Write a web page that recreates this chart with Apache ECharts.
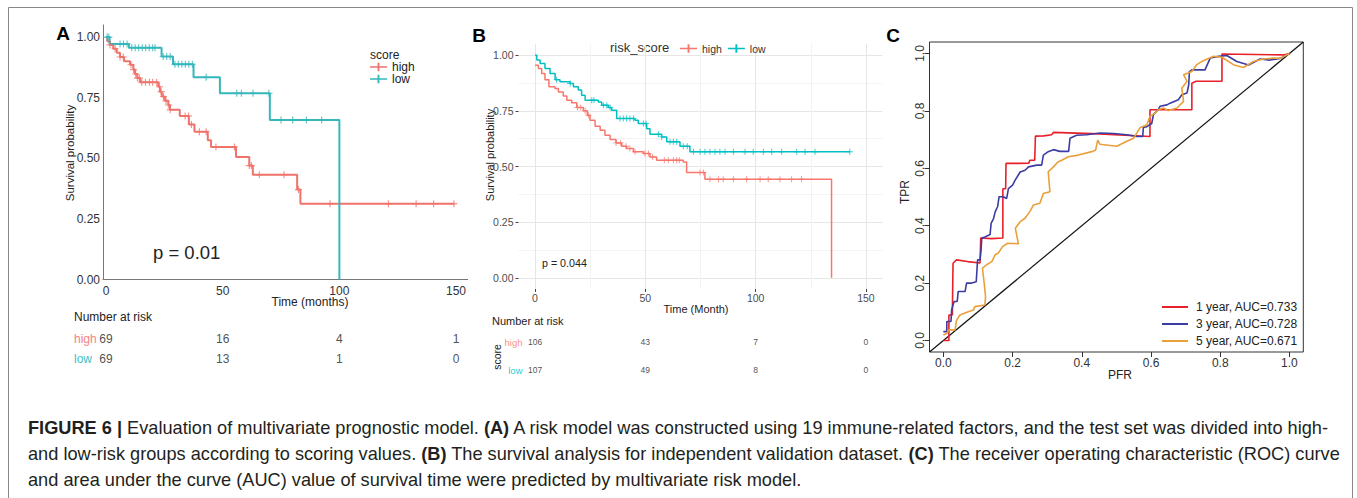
<!DOCTYPE html>
<html>
<head>
<meta charset="utf-8">
<script src="https://cdn.jsdelivr.net/npm/echarts@6/dist/echarts.min.js"></script>
<style>
  html, body { margin: 0; padding: 0; background: #fff; }
  #main { width: 1357px; height: 498px; }
</style>
</head>
<body>
<div id="main"></div>
<script>
// ---- panel A: KM, test set ----
const aTimeTicks = [0, 50, 100, 150];
const survTicks = [0, 0.25, 0.5, 0.75, 1];
const aHigh = [[0, 1], [0.5, 0.983], [1.7, 0.968], [3.1, 0.952], [4.6, 0.935], [6, 0.918], [7.7, 0.9],
  [10.3, 0.886], [11.7, 0.866], [12.4, 0.848], [13.4, 0.831], [14.6, 0.814], [22.4, 0.795], [23.1, 0.775],
  [23.9, 0.755], [25.3, 0.737], [26.7, 0.72], [27.4, 0.7], [31.6, 0.675], [35.5, 0.64], [37.9, 0.61],
  [43.6, 0.574], [45, 0.547], [55.7, 0.505], [61.4, 0.47], [62.9, 0.432], [81.9, 0.371], [83.3, 0.313],
  [149.3, 0.313]];
const aLow = [[0, 1], [1.5, 0.972], [9.8, 0.956], [23.8, 0.92], [28.7, 0.888], [37.5, 0.834],
  [48.8, 0.768], [70.2, 0.658], [100, 0]];
const aHighCensor = [1.7, 3.9, 6, 7.4, 10.7, 11.8, 12.7, 13.5, 14.3, 15.3, 16.9, 18.6, 20, 21.7, 22.9,
  23.6, 24.6, 25.7, 26.7, 27.5, 33.9, 35.3, 36.6, 40, 42.9, 47.1, 55, 61.4, 62.3, 65.7, 76.3, 82.5,
  96, 121, 132.9, 140.4, 149.1];
const aLowCensor = [0.5, 1.2, 6, 7.5, 9, 11, 12.5, 14, 15.5, 17, 18.5, 20, 21, 24.5, 26, 27.5, 29.5,
  31, 32.5, 34, 35.5, 37, 42.9, 56, 58, 63, 69.8, 75, 80, 85.9, 92.4];
const aRiskTimes = [0, 50, 100, 150];
const aRiskHigh = [69, 16, 4, 1];
const aRiskLow = [69, 13, 1, 0];

// ---- panel B: KM, validation set ----
const bTimeTicks = [0, 50, 100, 150];
const bTimeMinor = [25, 75, 125];
const survMinor = [0.125, 0.375, 0.625, 0.875];
const bHigh = [[0, 0.955], [1.5, 0.94], [3, 0.918], [4.5, 0.89], [6.3, 0.858], [9, 0.85], [10.6, 0.835],
  [12.8, 0.816], [14.4, 0.798], [16.6, 0.786], [18.9, 0.765], [21.9, 0.75], [23.7, 0.73], [24.9, 0.708],
  [27.2, 0.681], [29.5, 0.663], [31.7, 0.64], [34, 0.621], [36.7, 0.606], [39.3, 0.591], [41.5, 0.581],
  [44.6, 0.566], [49.1, 0.558], [52.1, 0.543], [55.1, 0.528], [67.2, 0.52], [68.7, 0.473], [77, 0.443],
  [134.4, 0]];
const bLow = [[0, 1], [0.8, 0.978], [2.3, 0.963], [4.5, 0.94], [6.8, 0.918], [9.1, 0.89], [11.3, 0.88],
  [15.9, 0.873], [17.4, 0.858], [19.6, 0.843], [21.1, 0.82], [22.7, 0.798], [28.7, 0.79], [30.2, 0.775],
  [33.2, 0.765], [34.7, 0.753], [37, 0.716], [45.3, 0.708], [46.8, 0.693], [50.6, 0.67], [52.1, 0.645],
  [57.4, 0.633], [59.7, 0.611], [65.7, 0.591], [70.2, 0.566], [142.7, 0.566]];
const bHighCensor = [19.2, 20.7, 22.7, 24.2, 36.7, 38.8, 41.2, 43, 45.3, 49.8, 51.4, 53.3, 58.6, 60.4,
  62.7, 64.2, 65.4, 74.8, 76.3, 79.3, 83.1, 85.3, 89.9, 95.9, 102, 105.7, 111, 116.3, 120.8];
const bLowCensor = [9.8, 15.9, 25.7, 26.7, 31, 32.5, 34, 38.5, 40, 41.5, 43, 44.6, 49.1, 50.3, 55.9,
  57.4, 61.2, 62.7, 64.2, 67.2, 69, 71.8, 74.8, 77, 79.3, 81.6, 83.8, 86.1, 89.9, 95.2, 98.9, 103.5,
  107.3, 111.8, 118.6, 122.4, 126.9, 142.7];
const bRiskTimes = [0, 50, 100, 150];
const bRiskHigh = [106, 43, 7, 0];
const bRiskLow = [107, 49, 8, 0];

// ---- panel C: ROC ----
const rocTicks = [0, 0.2, 0.4, 0.6, 0.8, 1];
const rocNames = ['1 year, AUC=0.733', '3 year, AUC=0.728', '5 year, AUC=0.671'];
const roc1 = [[0, 0], [0.016, 0], [0.016, 0.089], [0.026, 0.089], [0.028, 0.269], [0.038, 0.281],
  [0.07, 0.275], [0.106, 0.27], [0.108, 0.357], [0.14, 0.355], [0.172, 0.357], [0.172, 0.529],
  [0.18, 0.529], [0.181, 0.617], [0.215, 0.617], [0.247, 0.618], [0.25, 0.628], [0.264, 0.628],
  [0.266, 0.712], [0.29, 0.713], [0.313, 0.717], [0.318, 0.725], [0.45, 0.72], [0.597, 0.711],
  [0.597, 0.804], [0.718, 0.804], [0.718, 0.896], [0.73, 0.903], [0.805, 0.903], [0.805, 0.998],
  [0.983, 0.995], [1, 1]];
const roc3 = [[0, 0.031], [0.01, 0.031], [0.01, 0.066], [0.022, 0.066], [0.024, 0.107], [0.031, 0.136],
  [0.04, 0.136], [0.043, 0.171], [0.063, 0.171], [0.067, 0.2], [0.082, 0.2], [0.095, 0.205], [0.099, 0.281],
  [0.106, 0.281], [0.109, 0.315], [0.111, 0.357], [0.12, 0.361], [0.135, 0.369], [0.138, 0.408],
  [0.145, 0.425], [0.15, 0.449], [0.157, 0.467], [0.161, 0.501], [0.173, 0.501], [0.183, 0.495],
  [0.188, 0.529], [0.2, 0.541], [0.207, 0.558], [0.222, 0.587], [0.236, 0.593], [0.246, 0.605],
  [0.27, 0.611], [0.284, 0.611], [0.289, 0.646], [0.303, 0.658], [0.318, 0.665], [0.337, 0.659],
  [0.362, 0.659], [0.366, 0.705], [0.385, 0.715], [0.414, 0.717], [0.453, 0.723], [0.492, 0.721],
  [0.53, 0.717], [0.559, 0.711], [0.576, 0.711], [0.578, 0.742], [0.588, 0.745], [0.602, 0.756],
  [0.607, 0.787], [0.621, 0.804], [0.626, 0.816], [0.646, 0.821], [0.655, 0.827], [0.679, 0.839],
  [0.689, 0.856], [0.704, 0.862], [0.709, 0.891], [0.711, 0.937], [0.718, 0.943], [0.756, 0.943],
  [0.771, 0.984], [0.795, 0.99], [0.819, 0.993], [0.848, 0.972], [0.882, 0.96], [0.915, 0.981],
  [0.944, 0.977], [0.973, 0.983], [1, 1]];
const roc5 = [[0, 0.019], [0.01, 0.025], [0.016, 0.037], [0.034, 0.037], [0.038, 0.07], [0.048, 0.089],
  [0.072, 0.1], [0.087, 0.106], [0.091, 0.118], [0.12, 0.124], [0.122, 0.153], [0.118, 0.2],
  [0.113, 0.252], [0.125, 0.264], [0.14, 0.275], [0.15, 0.299], [0.159, 0.305], [0.171, 0.327],
  [0.186, 0.339], [0.217, 0.337], [0.208, 0.391], [0.222, 0.414], [0.236, 0.426], [0.25, 0.449],
  [0.26, 0.472], [0.279, 0.478], [0.289, 0.512], [0.308, 0.518], [0.303, 0.588], [0.318, 0.605],
  [0.331, 0.622], [0.342, 0.628], [0.361, 0.64], [0.39, 0.646], [0.429, 0.658], [0.44, 0.664],
  [0.446, 0.698], [0.452, 0.684], [0.501, 0.677], [0.53, 0.694], [0.55, 0.705], [0.568, 0.741],
  [0.588, 0.752], [0.597, 0.781], [0.612, 0.792], [0.621, 0.804], [0.636, 0.81], [0.65, 0.801],
  [0.675, 0.81], [0.694, 0.833], [0.689, 0.879], [0.704, 0.903], [0.694, 0.926], [0.718, 0.937],
  [0.732, 0.961], [0.751, 0.975], [0.781, 0.99], [0.805, 0.987], [0.838, 0.961], [0.867, 0.951],
  [0.896, 0.972], [0.925, 0.981], [0.954, 0.984], [0.973, 0.983], [1, 1]];
const rocDiag = [[-0.04, -0.04], [1.04, 1.04]];

const FONT = '"Liberation Sans", Arial, Helvetica, sans-serif';
const CROSS = 'path://M0,4.2H10V5.8H0Z M4.2,0H5.8V10H4.2Z';
const KM_ICON = 'path://M0,4.2H18V5.8H0Z M8,0.5H10V9.5H8Z';

const A_RED = '#F0736B', A_TEAL = '#35B7BB';
const B_RED = '#F8766D', B_TEAL = '#00BFC4';
const ROC_COLORS = ['#E8202A', '#3C3CA3', '#E9A03A'];

function stepAt(steps, t) {
  let s = steps[0][1];
  steps.forEach(p => { if (p[0] <= t) s = p[1]; });
  return s;
}

function kmLine(name, steps, color, axis, width) {
  return {
    type: 'line', name, xAxisIndex: axis, yAxisIndex: axis, data: steps, step: 'end',
    symbol: 'none', lineStyle: { color, width }, itemStyle: { color }, z: 3
  };
}

function censor(name, steps, times, color, axis, size) {
  return {
    type: 'scatter', name, xAxisIndex: axis, yAxisIndex: axis, silent: true, z: 4,
    data: times.map(t => [t, stepAt(steps, t)]),
    symbol: CROSS, symbolSize: size, itemStyle: { color }
  };
}

function riskRows(times, high, low, axis, fontSize) {
  const data = [];
  times.forEach((t, i) => {
    data.push([t, 0, high[i]]);
    data.push([t, 1, low[i]]);
  });
  return {
    type: 'scatter', name: 'risk' + axis, xAxisIndex: axis, yAxisIndex: axis, silent: true,
    data, symbolSize: 0,
    label: { show: true, position: 'inside', formatter: p => p.value[2],
      fontSize, fontFamily: FONT, color: '#222' }
  };
}

function txt(text, x, y, o) {
  o = o || {};
  return {
    type: 'text', x, y, rotation: o.rot || 0, silent: true,
    style: {
      text, fontSize: o.size || 12, fontFamily: FONT, fontWeight: o.weight || 'normal',
      fill: o.color || '#222', align: o.align || 'left', verticalAlign: 'middle', rich: o.rich
    }
  };
}

const hidden = { show: false };
const noLine = { show: false, onZero: false };
const pct2 = v => v.toFixed(2);
const pct1 = v => v.toFixed(1);

const CAP_SIZE = 18.2;
const capRich = { b: { fontWeight: 'bold', fontSize: CAP_SIZE, fontFamily: FONT, fill: '#231f20' } };

const chart = echarts.init(document.getElementById('main'), null, { renderer: 'svg' });

chart.setOption({
  animation: false,
  backgroundColor: '#fff',
  textStyle: { fontFamily: FONT },
  grid: [
    { left: 103, top: 25, width: 364.7, height: 254.5 },
    { left: 103, top: 329, width: 364.7, height: 40 },
    { left: 518.5, top: 44, width: 364, height: 245 },
    { left: 518.5, top: 328, width: 364, height: 56 },
    { left: 929.5, top: 42, width: 373.8, height: 310, show: true, borderColor: '#333', borderWidth: 1 }
  ],
  xAxis: [
    { gridIndex: 0, type: 'value', min: -1.3, max: 155,
      axisLine: { onZero: false, lineStyle: { color: '#777' } }, axisTick: hidden, splitLine: hidden,
      axisLabel: { customValues: aTimeTicks, fontSize: 12, color: '#333', margin: 5 } },
    { gridIndex: 1, type: 'value', min: -1.3, max: 155, show: false },
    { gridIndex: 2, type: 'value', min: -7.5, max: 157.5, axisLine: noLine,
      axisTick: { show: true, customValues: bTimeTicks, length: 3, lineStyle: { color: '#444' } },
      axisLabel: { customValues: bTimeTicks, fontSize: 10.5, color: '#4d4d4d', margin: 3 },
      splitLine: { show: true, lineStyle: { color: '#e6e6e6', width: 1 } } },
    { gridIndex: 2, type: 'value', position: 'top', min: -7.5, max: 157.5, axisLine: noLine,
      axisTick: { show: false, customValues: bTimeMinor }, axisLabel: hidden,
      splitLine: { show: true, lineStyle: { color: '#f3f3f3', width: 1 } } },
    { gridIndex: 3, type: 'value', min: -7.5, max: 157.5, show: false },
    { gridIndex: 4, type: 'value', min: -0.04, max: 1.04, axisLine: noLine,
      axisTick: { show: true, customValues: rocTicks, length: 5, lineStyle: { color: '#333' } },
      axisLabel: { customValues: rocTicks, formatter: pct1, fontSize: 12, color: '#333', margin: 5 },
      splitLine: hidden }
  ],
  yAxis: [
    { gridIndex: 0, type: 'value', min: 0, max: 1.05,
      axisLine: { show: true, onZero: false, lineStyle: { color: '#777' } }, axisTick: hidden, splitLine: hidden,
      axisLabel: { customValues: survTicks, formatter: pct2, fontSize: 12, color: '#333', margin: 3 } },
    { gridIndex: 1, type: 'category', data: ['high', 'low'], inverse: true,
      axisLine: noLine, axisTick: hidden, splitLine: hidden,
      axisLabel: { align: 'left', margin: 29, fontSize: 12,
        color: (v) => v === 'high' ? '#F4857E' : '#3FC1C5' } },
    { gridIndex: 2, type: 'value', min: -0.05, max: 1.05, axisLine: noLine,
      axisTick: { show: true, customValues: survTicks, length: 3, lineStyle: { color: '#444' } },
      axisLabel: { customValues: survTicks, formatter: pct2, fontSize: 10.5, color: '#4d4d4d', margin: 5 },
      splitLine: { show: true, lineStyle: { color: '#e6e6e6', width: 1 } } },
    { gridIndex: 2, type: 'value', position: 'right', min: -0.05, max: 1.05, axisLine: noLine,
      axisTick: { show: false, customValues: survMinor }, axisLabel: hidden,
      splitLine: { show: true, lineStyle: { color: '#f3f3f3', width: 1 } } },
    { gridIndex: 3, type: 'category', data: ['high', 'low'], inverse: true,
      axisLine: noLine, axisTick: hidden, splitLine: hidden,
      axisLabel: { margin: -4, fontSize: 9.5,
        color: (v) => v === 'high' ? '#F8918A' : '#33CCD0' } },
    { gridIndex: 4, type: 'value', min: -0.04, max: 1.04, axisLine: noLine,
      axisTick: { show: true, customValues: rocTicks, length: 5, lineStyle: { color: '#333' } },
      axisLabel: { customValues: rocTicks, formatter: pct1, fontSize: 12, color: '#333', margin: 4, rotate: 90 },
      splitLine: hidden }
  ],
  legend: [
    { data: ['high', 'low'], orient: 'vertical', left: 370, top: 61, itemWidth: 17, itemHeight: 9,
      itemGap: 0, icon: KM_ICON, padding: 0, selectedMode: false,
      textStyle: { fontSize: 12, color: '#222', fontFamily: FONT } },
    { data: ['high ', 'low '], orient: 'horizontal', left: 680, top: 43, itemWidth: 17, itemHeight: 9,
      itemGap: 6, icon: KM_ICON, padding: 0, selectedMode: false, formatter: n => n.trim(),
      textStyle: { fontSize: 10.5, color: '#333', fontFamily: FONT } },
    { data: rocNames, orient: 'vertical', left: 1162, top: 301, itemWidth: 26, itemHeight: 2,
      itemGap: 5, icon: 'path://M0,0H26V2H0Z', padding: 0, selectedMode: false,
      textStyle: { fontSize: 12, color: '#222', fontFamily: FONT, padding: [0, 0, 0, 3] } }
  ],
  series: [
    kmLine('high', aHigh, A_RED, 0, 2),
    kmLine('low', aLow, A_TEAL, 0, 2),
    censor('aHighC', aHigh, aHighCensor, A_RED, 0, 7),
    censor('aLowC', aLow, aLowCensor, A_TEAL, 0, 7),
    riskRows(aRiskTimes, aRiskHigh, aRiskLow, 1, 12),
    kmLine('high ', bHigh, B_RED, 2, 1.5),
    kmLine('low ', bLow, B_TEAL, 2, 1.5),
    censor('bHighC', bHigh, bHighCensor, B_RED, 2, 6),
    censor('bLowC', bLow, bLowCensor, B_TEAL, 2, 6),
    riskRows(bRiskTimes, bRiskHigh, bRiskLow, 4, 8.5),
    { type: 'line', name: 'diag', xAxisIndex: 5, yAxisIndex: 5, data: rocDiag, symbol: 'none',
      silent: true, lineStyle: { color: '#111', width: 1.2 } },
    ...[roc1, roc3, roc5].map((d, i) => ({
      type: 'line', name: rocNames[i], xAxisIndex: 5, yAxisIndex: 5, data: d, symbol: 'none',
      lineStyle: { color: ROC_COLORS[i], width: 1.6 }, itemStyle: { color: ROC_COLORS[i] }, z: 3 + i
    }))
  ],
  graphic: [
    { type: 'rect', silent: true, shape: { x: 8.5, y: 7.5, width: 1344, height: 520 },
      style: { fill: 'none', stroke: '#888', lineWidth: 1 } },
    // panel A
    txt('A', 63, 33, { size: 19, weight: 'bold', align: 'center', color: '#000' }),
    txt('Survival probability', 70, 153, { rot: Math.PI / 2, align: 'center', size: 11.5 }),
    txt('Time (months)', 310, 302, { align: 'center' }),
    txt('p = 0.01', 153, 252, { size: 18.5 }),
    txt('score', 370, 55, { size: 12 }),
    txt('Number at risk', 74, 317, { size: 12 }),
    // panel B
    txt('B', 479, 35, { size: 19, weight: 'bold', align: 'center', color: '#000' }),
    txt('Survival probability', 490, 155, { rot: Math.PI / 2, align: 'center', size: 11 }),
    txt('Time (Month)', 696, 309, { align: 'center', size: 11 }),
    txt('p = 0.044', 542, 263, { size: 10.7 }),
    txt('risk_score', 610, 47, { size: 13, color: '#333' }),
    txt('Number at risk', 492, 321, { size: 11 }),
    txt('score', 497, 357, { rot: Math.PI / 2, align: 'center', size: 10.5 }),
    // panel C
    txt('C', 893, 35, { size: 19, weight: 'bold', align: 'center', color: '#000' }),
    txt('TPR', 905, 192, { rot: Math.PI / 2, align: 'center', size: 12 }),
    txt('PFR', 1120, 375, { align: 'center', size: 12 }),
    // caption
    txt('{b|FIGURE 6 |} Evaluation of multivariate prognostic model. {b|(A)} A risk model was constructed using 19 immune-related factors, and the test set was divided into high-',
      28, 428, { size: CAP_SIZE, color: '#231f20', rich: capRich }),
    txt('and low-risk groups according to scoring values. {b|(B)} The survival analysis for independent validation dataset. {b|(C)} The receiver operating characteristic (ROC) curve',
      28, 454, { size: CAP_SIZE, color: '#231f20', rich: capRich }),
    txt('and area under the curve (AUC) value of survival time were predicted by multivariate risk model.',
      28, 480, { size: CAP_SIZE, color: '#231f20', rich: capRich })
  ]
});
</script>
</body>
</html>
